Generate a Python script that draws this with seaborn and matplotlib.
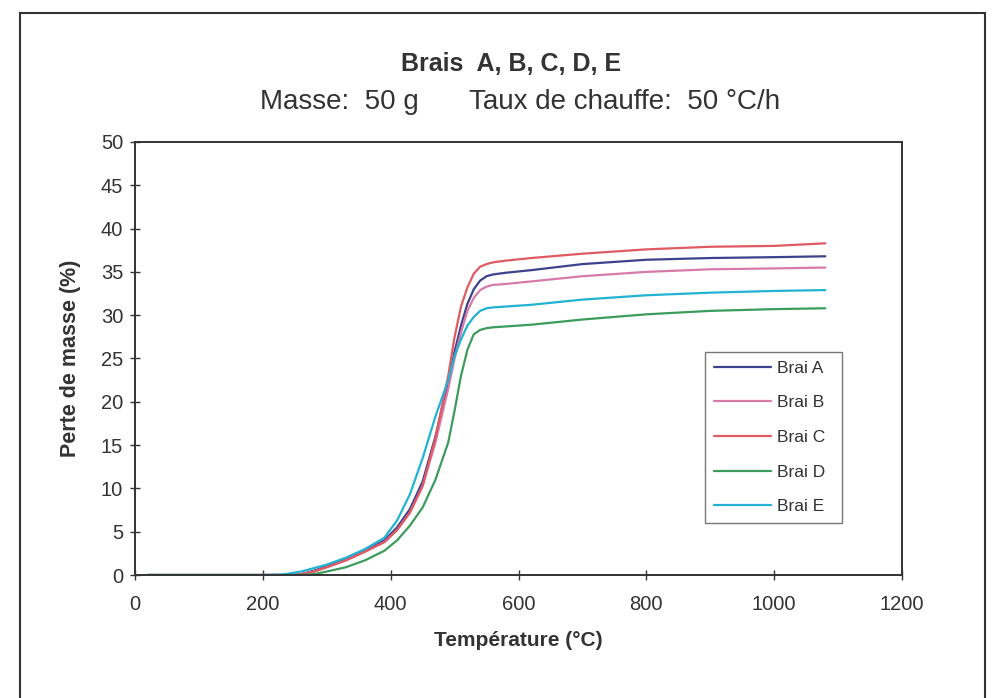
import pandas as pd
import matplotlib.pyplot as plt
import seaborn as sns
from matplotlib.patches import Rectangle

# temperature grid (°C) shared by all curves
temp = [20, 100, 200, 230, 260, 280, 300, 330, 360, 390, 410, 430, 450, 470, 490,
        500, 510, 520, 530, 540, 550, 560, 580, 620, 700, 800, 900, 1000, 1080]

brai_a = [0, 0, 0, 0, 0.1, 0.5, 1.0, 1.8, 2.8, 4.0, 5.5, 7.6, 10.8, 16.0, 22.3,
          25.8, 28.8, 31.3, 33.0, 34.0, 34.5, 34.7, 34.9, 35.2, 35.9, 36.4, 36.6, 36.7, 36.8]
brai_b = [0, 0, 0, 0, 0.1, 0.4, 0.9, 1.7, 2.7, 3.8, 5.2, 7.2, 10.3, 15.3, 21.5,
          25.0, 28.0, 30.5, 32.0, 32.9, 33.3, 33.5, 33.6, 33.9, 34.5, 35.0, 35.3, 35.4, 35.5]
brai_c = [0, 0, 0, 0, 0.1, 0.4, 0.9, 1.7, 2.7, 3.8, 5.2, 7.2, 10.3, 15.8, 23.0,
          27.5, 31.0, 33.2, 34.8, 35.6, 35.9, 36.1, 36.3, 36.6, 37.1, 37.6, 37.9, 38.0, 38.3]
brai_d = [0, 0, 0, 0, 0, 0.1, 0.4, 0.9, 1.7, 2.8, 4.0, 5.7, 7.8, 11.0, 15.3,
          19.0, 23.0, 26.0, 27.8, 28.3, 28.5, 28.6, 28.7, 28.9, 29.5, 30.1, 30.5, 30.7, 30.8]
brai_e = [0, 0, 0, 0.05, 0.4, 0.8, 1.2, 2.0, 3.0, 4.3, 6.3, 9.3, 13.5, 18.3, 22.5,
          25.3, 27.2, 28.8, 29.8, 30.5, 30.8, 30.9, 31.0, 31.2, 31.8, 32.3, 32.6, 32.8, 32.9]

names = ['Brai A', 'Brai B', 'Brai C', 'Brai D', 'Brai E']
colors = ['#3d428c', '#d77aa8', '#e05a62', '#3c9c5c', '#22b2d2']

rows = []
for name, vals in zip(names, [brai_a, brai_b, brai_c, brai_d, brai_e]):
    for t, v in zip(temp, vals):
        rows.append({'temp': t, 'perte': v, 'brai': name})
df = pd.DataFrame(rows)

sns.set_style('white')
plt.rcParams['font.family'] = ['Liberation Sans', 'DejaVu Sans']

fig = plt.figure(figsize=(10.01, 6.98), dpi=100)
ax = fig.add_axes([0.1349, 0.1762, 0.7662, 0.6204])

sns.lineplot(data=df, x='temp', y='perte', hue='brai', palette=colors,
             linewidth=1.6, ax=ax, legend=True)

ax.set_xlim(0, 1200)
ax.set_ylim(0, 50)
ax.set_xticks(range(0, 1201, 200))
ax.set_yticks(range(0, 51, 5))
ax.tick_params(axis='both', direction='inout', length=7, width=1, colors='#333333',
               labelsize=14.5, labelcolor='#333333', bottom=True, left=True)
ax.tick_params(axis='x', pad=11)
ax.tick_params(axis='y', pad=5)
for s in ax.spines.values():
    s.set_color('#333333')
    s.set_linewidth(1.4)

ax.set_xlabel('Température (°C)', fontsize=15, fontweight='bold', color='#333333', labelpad=12)
ax.set_ylabel('Perte de masse (%)', fontsize=15.5, fontweight='bold', color='#333333', labelpad=14)

leg = ax.legend(loc='upper left', bbox_to_anchor=(0.743, 0.3, 0.1786, 0.215), mode='expand',
                frameon=True, fancybox=False, fontsize=12.5, handlelength=3.3,
                handletextpad=0.35, labelspacing=1.12, borderpad=0.5, borderaxespad=0)
leg.get_frame().set_edgecolor('#555555')
leg.get_frame().set_linewidth(1.0)
for txt in leg.get_texts():
    txt.set_color('#333333')

fig.text(0.511, 0.909, 'Brais  A, B, C, D, E', ha='center', va='center',
         fontsize=18, fontweight='bold', color='#333333')
fig.text(0.26, 0.854, 'Masse:  50 g', ha='left', va='center', fontsize=20, color='#333333')
fig.text(0.4685, 0.854, 'Taux de chauffe:  50 °C/h', ha='left', va='center',
         fontsize=20, color='#333333')

# outer page frame
fig.patches.append(Rectangle((0.02, -0.02), 0.964, 1.0014, transform=fig.transFigure,
                             fill=False, edgecolor='#333333', linewidth=1.5))

fig.savefig('out.png', dpi=100)
